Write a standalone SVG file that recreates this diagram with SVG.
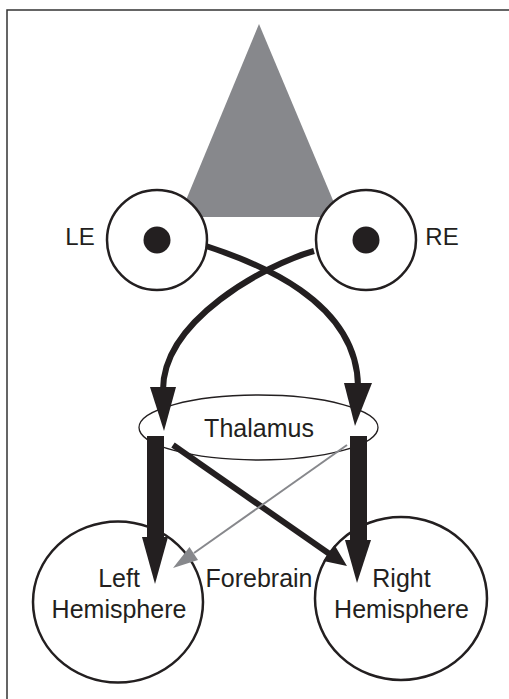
<svg xmlns="http://www.w3.org/2000/svg" width="509" height="699" viewBox="0 0 509 699">
<style>
.lbl{font-family:"Liberation Sans",Arial,sans-serif;font-size:25px;fill:#231f20;text-anchor:middle}
.ring{fill:#fff;stroke:#231f20;stroke-width:2.5}
.thick{fill:none;stroke:#231f20;stroke-width:6}
.head{fill:#231f20}
</style>
<rect x="0" y="0" width="509" height="699" fill="#fff"/>
<rect x="7" y="10" width="520" height="720" fill="none" stroke="#333" stroke-width="1.5"/>
<g id="field">
<polygon points="259,24 179,217 340,217" fill="#87888c"/>
</g>
<g id="left-eye">
<circle class="ring" cx="157" cy="240" r="50"/>
<circle cx="157" cy="240" r="13.5" fill="#231f20"/>
<text class="lbl" x="80" y="245" font-size="24" style="font-size:24px">LE</text>
</g>
<g id="right-eye">
<circle class="ring" cx="366" cy="240" r="50"/>
<circle cx="366" cy="240" r="13.5" fill="#231f20"/>
<text class="lbl" x="442" y="245" style="font-size:24px">RE</text>
</g>
<g id="thalamus">
<ellipse cx="258.5" cy="427.5" rx="119.5" ry="32.5" fill="none" stroke="#231f20" stroke-width="1.3"/>
<text class="lbl" x="259" y="437">Thalamus</text>
</g>
<g id="left-hemisphere">
<ellipse cx="118" cy="602" rx="85" ry="80.5" fill="none" stroke="#231f20" stroke-width="2.5"/>
<text class="lbl" x="119" y="587">Left</text>
<text class="lbl" x="119" y="618">Hemisphere</text>
</g>
<g id="right-hemisphere">
<ellipse cx="401" cy="598.5" rx="86" ry="81.5" fill="none" stroke="#231f20" stroke-width="2.5"/>
<text class="lbl" x="401.5" y="587">Right</text>
<text class="lbl" x="401.5" y="618">Hemisphere</text>
</g>
<g id="forebrain-label">
<text class="lbl" x="259" y="587">Forebrain</text>
</g>
<g id="connectors">
<path class="thick" d="M206,246 C255,262 357,300 358,386"/>
<polygon class="head" points="344,383 372,383 355,426"/>
<path class="thick" d="M314,251 C265,265 163,320 163,390"/>
<polygon class="head" points="150,387 176,387 164,431"/>
<rect x="147" y="436" width="17" height="103" fill="#231f20"/>
<polygon class="head" points="142,537 168,537 155,584"/>
<rect x="350" y="436" width="17" height="105" fill="#231f20"/>
<polygon class="head" points="345,540 371,540 357,583"/>
<line x1="173" y1="445" x2="331" y2="555" stroke="#231f20" stroke-width="6"/>
<polygon class="head" points="347,566 323.5,561 334.5,545"/>
<line x1="347" y1="445" x2="194" y2="553" stroke="#87888c" stroke-width="2"/>
<polygon points="173,568 198,560 189.5,547" fill="#87888c"/>
</g>
</svg>
